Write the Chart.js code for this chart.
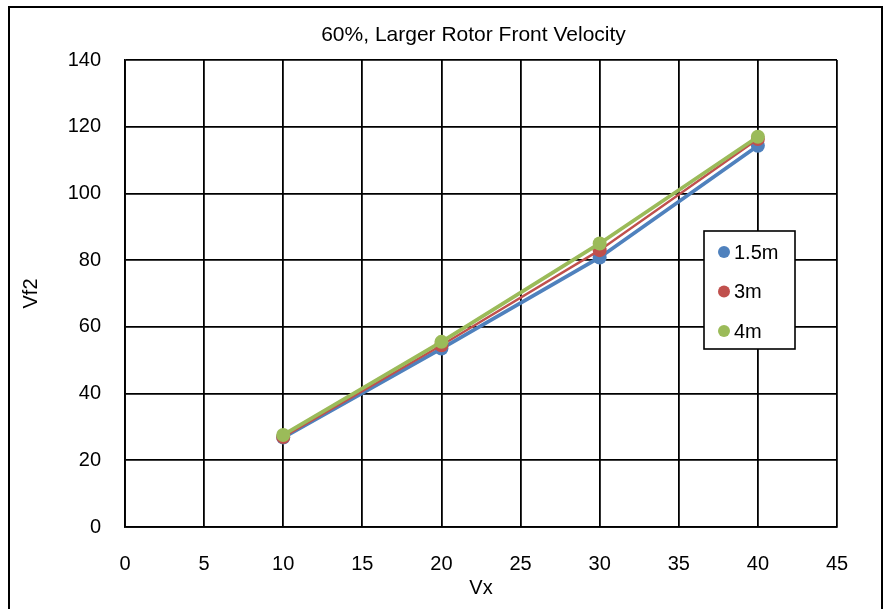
<!DOCTYPE html>
<html>
<head>
<meta charset="utf-8">
<script src="https://cdn.jsdelivr.net/npm/chart.js@4/dist/chart.umd.min.js"></script>
<style>
  html, body { margin: 0; padding: 0; background: #fff; }
  #wrap { position: relative; width: 885px; height: 609px; }
  #frame { position: absolute; left: 8px; top: 6px; width: 875px; height: 640px; border: 2px solid #000; box-sizing: border-box; pointer-events: none; }
</style>
</head>
<body>
<div id="wrap">
  <canvas id="c" width="885" height="609"></canvas>
  <div id="frame"></div>
</div>
<script>
// Rotor front velocity Vf2 against Vx, one series per distance
const vx = [10, 20, 30, 40];
const series15 = [26.8, 53.5, 80.8, 114.3];
const series3 = [27, 54.5, 83, 116.3];
const series4 = [27.6, 55.5, 85, 117];
const seriesNames = ['1.5m', '3m', '4m'];
const seriesColors = ['#4F81BD', '#C0504D', '#9BBB59'];
const xTicks = [0, 5, 10, 15, 20, 25, 30, 35, 40, 45];
const yTicks = [0, 20, 40, 60, 80, 100, 120, 140];

const FONT = 'Liberation Sans, Arial, sans-serif';

function pts(ys) { return vx.map((x, i) => ({ x: x, y: ys[i] })); }

const lineWidths = [3.8, 2.4, 3.8];
const datasets = [series15, series3, series4].map((ys, i) => ({
  label: seriesNames[i],
  data: pts(ys),
  showLine: true,
  borderColor: seriesColors[i],
  backgroundColor: seriesColors[i],
  borderWidth: lineWidths[i],
  pointRadius: 7,
  pointBorderWidth: 0,
  pointHoverRadius: 7,
  order: 2 - i
}));

// Title sits slightly left of the plot centre
const titleShift = {
  id: 'titleShift',
  afterLayout(chart) {
    if (chart.titleBlock) chart.titleBlock.left = 110;
  }
};

// Legend box drawn inside the plot area
const boxLegend = {
  id: 'boxLegend',
  afterDatasetsDraw(chart) {
    const ctx = chart.ctx;
    const x0 = 704, y0 = 231, w = 91, h = 118;
    ctx.save();
    ctx.fillStyle = '#fff';
    ctx.fillRect(x0, y0, w, h);
    ctx.strokeStyle = '#000';
    ctx.lineWidth = 1.6;
    ctx.strokeRect(x0, y0, w, h);
    ctx.font = '20px ' + FONT;
    ctx.textBaseline = 'middle';
    ctx.textAlign = 'left';
    chart.data.datasets.forEach((ds, i) => {
      const cy = y0 + 21 + i * 39.5;
      ctx.fillStyle = ds.backgroundColor;
      ctx.beginPath();
      ctx.arc(x0 + 20, cy, 6, 0, Math.PI * 2);
      ctx.fill();
      ctx.fillStyle = '#000';
      ctx.fillText(ds.label, x0 + 30, cy + 1);
    });
    ctx.restore();
  }
};

new Chart(document.getElementById('c'), {
  type: 'scatter',
  data: { datasets: datasets },
  plugins: [titleShift, boxLegend],
  options: {
    responsive: false,
    animation: false,
    layout: { padding: { left: 10, right: 48, top: 0, bottom: 0 } },
    plugins: {
      legend: { display: false },
      tooltip: { enabled: false },
      title: {
        display: true,
        text: '60%, Larger Rotor Front Velocity',
        color: '#000',
        font: { family: FONT, size: 21, weight: 'normal' },
        padding: { top: 23, bottom: 11.8 }
      }
    },
    scales: {
      x: {
        type: 'linear',
        min: 0, max: 45,
        afterBuildTicks(s) { s.ticks = xTicks.map(v => ({ value: v })); },
        afterFit(s) { s.height = 82; },
        grid: { color: '#000', lineWidth: 1.8, drawTicks: false },
        border: { color: '#000', width: 1.8 },
        ticks: { color: '#000', font: { family: FONT, size: 20 }, padding: 25, maxRotation: 0 },
        title: { display: true, text: 'Vx', color: '#000', font: { family: FONT, size: 20 }, padding: { top: 0, bottom: 9 } }
      },
      y: {
        type: 'linear',
        min: 0, max: 140,
        afterBuildTicks(s) { s.ticks = yTicks.map(v => ({ value: v })); },
        afterFit(s) { s.width = 115; },
        grid: { color: '#000', lineWidth: 1.8, drawTicks: false },
        border: { color: '#000', width: 1.8 },
        ticks: { color: '#000', font: { family: FONT, size: 20 }, padding: 24 },
        title: { display: true, text: 'Vf2', color: '#000', font: { family: FONT, size: 20 }, padding: { top: 9, bottom: 0 } }
      }
    }
  }
});
</script>
</body>
</html>
